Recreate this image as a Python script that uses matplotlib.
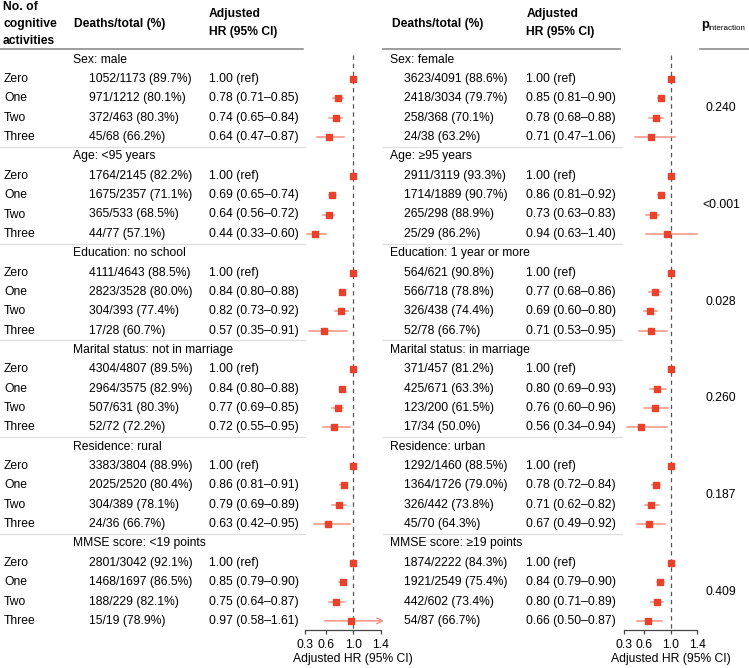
import matplotlib
matplotlib.use("Agg")
import matplotlib.pyplot as plt
from matplotlib.lines import Line2D
import numpy as np

plt.rcParams['font.family'] = ['Liberation Sans', 'DejaVu Sans']
fs = 8.7

# ---- data ----
levels = ['Zero', 'One', 'Two', 'Three']

groups_left = ['Sex: male', 'Age: <95 years', 'Education: no school',
               'Marital status: not in marriage', 'Residence: rural',
               'MMSE score: <19 points']
groups_right = ['Sex: female', 'Age: \u226595 years', 'Education: 1 year or more',
                'Marital status: in marriage', 'Residence: urban',
                'MMSE score: \u226519 points']

deaths_left = [
    ['1052/1173 (89.7%)', '971/1212 (80.1%)', '372/463 (80.3%)', '45/68 (66.2%)'],
    ['1764/2145 (82.2%)', '1675/2357 (71.1%)', '365/533 (68.5%)', '44/77 (57.1%)'],
    ['4111/4643 (88.5%)', '2823/3528 (80.0%)', '304/393 (77.4%)', '17/28 (60.7%)'],
    ['4304/4807 (89.5%)', '2964/3575 (82.9%)', '507/631 (80.3%)', '52/72 (72.2%)'],
    ['3383/3804 (88.9%)', '2025/2520 (80.4%)', '304/389 (78.1%)', '24/36 (66.7%)'],
    ['2801/3042 (92.1%)', '1468/1697 (86.5%)', '188/229 (82.1%)', '15/19 (78.9%)'],
]
deaths_right = [
    ['3623/4091 (88.6%)', '2418/3034 (79.7%)', '258/368 (70.1%)', '24/38 (63.2%)'],
    ['2911/3119 (93.3%)', '1714/1889 (90.7%)', '265/298 (88.9%)', '25/29 (86.2%)'],
    ['564/621 (90.8%)', '566/718 (78.8%)', '326/438 (74.4%)', '52/78 (66.7%)'],
    ['371/457 (81.2%)', '425/671 (63.3%)', '123/200 (61.5%)', '17/34 (50.0%)'],
    ['1292/1460 (88.5%)', '1364/1726 (79.0%)', '326/442 (73.8%)', '45/70 (64.3%)'],
    ['1874/2222 (84.3%)', '1921/2549 (75.4%)', '442/602 (73.4%)', '54/87 (66.7%)'],
]

hr_left = [[1.00, 0.78, 0.74, 0.64], [1.00, 0.69, 0.64, 0.44], [1.00, 0.84, 0.82, 0.57],
           [1.00, 0.84, 0.77, 0.72], [1.00, 0.86, 0.79, 0.63], [1.00, 0.85, 0.75, 0.97]]
lo_left = [[1.00, 0.71, 0.65, 0.47], [1.00, 0.65, 0.56, 0.33], [1.00, 0.80, 0.73, 0.35],
           [1.00, 0.80, 0.69, 0.55], [1.00, 0.81, 0.69, 0.42], [1.00, 0.79, 0.64, 0.58]]
hi_left = [[1.00, 0.85, 0.84, 0.87], [1.00, 0.74, 0.72, 0.60], [1.00, 0.88, 0.92, 0.91],
           [1.00, 0.88, 0.85, 0.95], [1.00, 0.91, 0.89, 0.95], [1.00, 0.90, 0.87, 1.61]]

hr_right = [[1.00, 0.85, 0.78, 0.71], [1.00, 0.86, 0.73, 0.94], [1.00, 0.77, 0.69, 0.71],
            [1.00, 0.80, 0.76, 0.56], [1.00, 0.78, 0.71, 0.67], [1.00, 0.84, 0.80, 0.66]]
lo_right = [[1.00, 0.81, 0.68, 0.47], [1.00, 0.81, 0.63, 0.63], [1.00, 0.68, 0.60, 0.53],
            [1.00, 0.69, 0.60, 0.34], [1.00, 0.72, 0.62, 0.49], [1.00, 0.79, 0.71, 0.50]]
hi_right = [[1.00, 0.90, 0.88, 1.06], [1.00, 0.92, 0.83, 1.40], [1.00, 0.86, 0.80, 0.95],
            [1.00, 0.93, 0.96, 0.94], [1.00, 0.84, 0.82, 0.92], [1.00, 0.90, 0.89, 0.87]]

p_values = ['0.240', '<0.001', '0.028', '0.260', '0.187', '0.409']
ticks = [0.3, 0.6, 1.0, 1.4]

# ---- layout helpers (pixel based) ----
W, H = 749, 668
fig = plt.figure(figsize=(W / 100, H / 100), dpi=100)

def fx(x):
    return x / W

def fy(y):
    return 1 - y / H

def row_y(r):
    return 59.7 + 19.35 * r

def txt(x, y, s, **kw):
    kw.setdefault('fontsize', fs)
    fig.text(fx(x), fy(y), s, va='center', **kw)

def hline(x0, x1, y, color, lw):
    fig.add_artist(Line2D([fx(x0), fx(x1)], [fy(y), fy(y)], color=color, lw=lw))

sq_col = '#E8412C'
ci_col = '#F39383'

# headers
txt(3, 7.5, 'No. of', fontweight='bold')
txt(3, 24, 'cognitive', fontweight='bold')
txt(3, 40.5, 'activities', fontweight='bold')
txt(74, 24, 'Deaths/total (%)', fontweight='bold')
txt(209, 14, 'Adjusted', fontweight='bold')
txt(209, 32, 'HR (95% CI)', fontweight='bold')
txt(391.5, 24, 'Deaths/total (%)', fontweight='bold')
txt(526.5, 14, 'Adjusted', fontweight='bold')
txt(526.5, 32, 'HR (95% CI)', fontweight='bold')
txt(701.5, 25, 'p', fontweight='bold', fontsize=fs + 0.5)
txt(708.5, 28.5, 'interaction', fontsize=5.8)

hline(0, 303, 49, '#8c8c8c', 1.2)
hline(383, 620, 49, '#8c8c8c', 1.2)
hline(700, 749, 49, '#8c8c8c', 1.2)

# table body
for g in range(6):
    r0 = g * 5
    txt(73, row_y(r0), groups_left[g])
    txt(390.5, row_y(r0), groups_right[g])
    for k in range(4):
        y = row_y(r0 + 1 + k)
        txt(4, y, levels[k])
        txt(89, y, deaths_left[g][k])
        txt(404, y, deaths_right[g][k])
        if k == 0:
            hl = '1.00 (ref)'
            hr = '1.00 (ref)'
        else:
            hl = f'{hr_left[g][k]:.2f} ({lo_left[g][k]:.2f}\u2013{hi_left[g][k]:.2f})'
            hr = f'{hr_right[g][k]:.2f} ({lo_right[g][k]:.2f}\u2013{hi_right[g][k]:.2f})'
        txt(209, y, hl)
        txt(526.5, y, hr)
    txt(721, (row_y(r0 + 1) + row_y(r0 + 4)) / 2, p_values[g], ha='center')
    if g < 5:
        ysep = row_y(r0 + 4.5)
        hline(0, 305, ysep, '#dedede', 0.9)
        hline(383, 622, ysep, '#dedede', 0.9)


# forest panels
def forest(x_one, pxu, hr, lo, hi):
    x0 = x_one - 0.8 * pxu
    x1 = x_one + 0.5 * pxu
    ytop, ybot = 50, 630
    ax = fig.add_axes([fx(x0), fy(ybot), (x1 - x0) / W, (ybot - ytop) / H])
    ax.set_xlim(0.2, 1.5)
    ax.set_ylim((ybot - 59.7) / 19.35, (ytop - 59.7) / 19.35)
    ax.patch.set_alpha(0)
    for s in ['top', 'right', 'left']:
        ax.spines[s].set_visible(False)
    ax.spines['bottom'].set_bounds(0.3, 1.4)
    ax.spines['bottom'].set_color('#444444')
    ax.spines['bottom'].set_linewidth(0.9)
    ax.set_yticks([])
    ax.set_xticks(ticks)
    ax.set_xticklabels([f'{t:.1f}' for t in ticks], fontsize=fs)
    ax.tick_params(axis='x', length=3, width=0.9, color='#444444', pad=3.5)
    ax.plot([1, 1], [(55 - 59.7) / 19.35, (ybot - 59.7) / 19.35], ls=(0, (3.5, 3)),
            color='#555555', lw=0.9, zorder=1)
    for g in range(6):
        for k in range(4):
            r = g * 5 + 1 + k
            h, l, u = hr[g][k], lo[g][k], hi[g][k]
            if u > 1.45:
                ax.annotate('', xy=(1.45, r), xytext=(l, r),
                            arrowprops=dict(arrowstyle='->', color=ci_col, lw=1.1,
                                            shrinkA=0, shrinkB=0, mutation_scale=10))
            elif u > l:
                ax.plot([l, u], [r, r], color=ci_col, lw=1.1, zorder=2)
            ax.plot(h, r, 's', color=sq_col, ms=4.3, mec=sq_col, zorder=3)
    fig.text(fx(x_one), fy(659), 'Adjusted HR (95% CI)', ha='center', va='center', fontsize=fs)
    return ax

forest(353.3, 68.4, hr_left, lo_left, hi_left)
forest(670.7, 66.7, hr_right, lo_right, hi_right)

fig.savefig('out.png', dpi=100)
